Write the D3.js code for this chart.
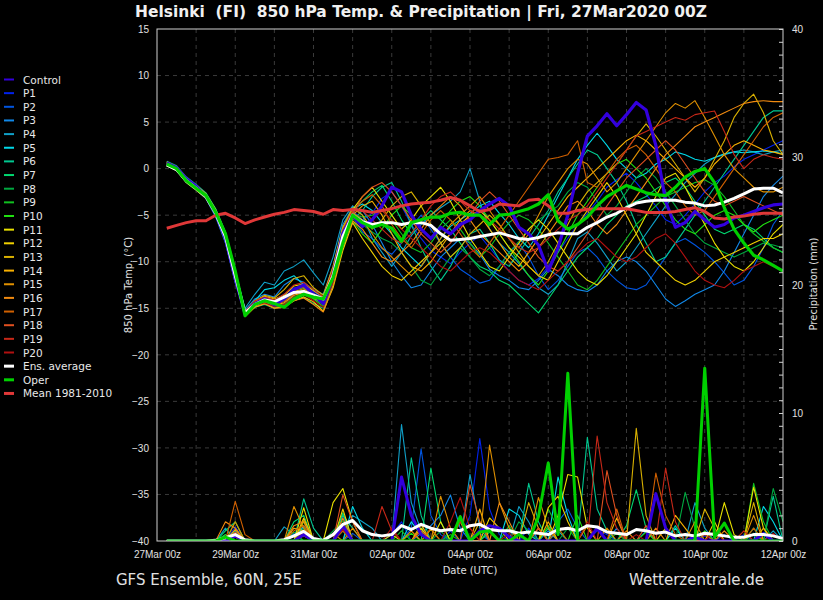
<!DOCTYPE html>
<html lang="en">
<head>
<meta charset="UTF-8">
<title>Helsinki 850 hPa Temp. &amp; Precipitation</title>
<script src="https://d3js.org/d3.v7.min.js"></script>
<style>
  body { margin: 0; background: #000; }
  svg { display: block; font-family: "DejaVu Sans", sans-serif; }
  .axis text { font-size: 10px; fill: #e0e0e0; }
  .axis path { display: none; }
  .axis line { stroke: #d0d0d0; }
  .grid line { stroke: #3a3a3a; stroke-dasharray: 4,4; }
  .legend text { font-size: 10.5px; fill: #e8e8e8; }
</style>
</head>
<body>
<script>
// 6-hourly steps, first value is 27Mar 06z, last is 12Apr 00z
const stepHours = 6;
const dateLabels = ["27Mar 00z","29Mar 00z","31Mar 00z","02Apr 00z","04Apr 00z","06Apr 00z","08Apr 00z","10Apr 00z","12Apr 00z"];
const tempTicks = [15,10,5,0,-5,-10,-15,-20,-25,-30,-35,-40];
const precipTicks = [0,10,20,30,40];

// 850 hPa temperature (°C)
const tControl = [0.6,0.1,-1.1,-1.9,-3.0,-4.8,-7.5,-11.8,-15.6,-14.5,-14.0,-14.6,-14.0,-13.0,-12.5,-13.5,-14.5,-11.5,-7.0,-5.0,
  -6.2,-5.5,-4.0,-2.0,-2.5,-5.0,-6.5,-7.5,-6.3,-7.0,-6.0,-5.5,-4.5,-3.8,-3.2,-4.0,-6.3,-7.0,-8.2,-11.0,
  -8.5,-5.0,-0.5,3.5,4.6,5.9,4.6,5.8,7.1,6.3,2.5,-3.5,-6.3,-5.8,-4.6,-5.5,-6.3,-6.0,-5.3,-5.0,-4.6,-4.2,-3.9,-3.8];
const tP1 = [0.4,-0.1,-1.4,-2.2,-3.1,-5.0,-7.6,-12.0,-15.4,-14.4,-13.8,-14.2,-13.5,-12.8,-12.6,-13.2,-13.9,-11.0,-6.5,-4.5,
  -5.5,-4.8,-3.2,-2.5,-4.0,-6.0,-7.5,-8.8,-9.5,-10.2,-9.0,-8.0,-7.2,-8.5,-9.8,-11.0,-12.0,-12.5,-11.8,-10.5,
  -9.0,-7.5,-6.0,-4.8,-3.5,-2.0,-1.2,-0.5,-1.5,-2.8,-4.0,-5.5,-6.0,-5.0,-3.8,-2.5,-1.5,-0.8,0.2,1.0,1.5,2.0,2.5,3.0];
const tP2 = [0.7,0.2,-1.0,-1.8,-2.7,-4.4,-7.0,-11.2,-15.8,-14.8,-14.4,-14.9,-14.6,-13.6,-13.2,-13.9,-14.6,-12.0,-7.8,-5.2,
  -6.8,-7.5,-8.6,-9.2,-8.0,-6.2,-5.0,-6.5,-8.0,-9.5,-10.8,-11.5,-12.3,-12.0,-10.5,-9.0,-8.0,-9.5,-11.5,-13.0,
  -12.0,-10.5,-9.0,-8.5,-9.5,-11.0,-12.0,-12.8,-13.0,-12.5,-11.0,-9.5,-8.0,-7.5,-8.2,-9.0,-10.0,-11.2,-12.5,-12.0,-10.5,-8.5,-6.0,-4.5];
const tP3 = [0.3,-0.2,-1.5,-2.3,-3.2,-5.2,-8.0,-12.3,-15.2,-14.0,-13.5,-13.8,-12.5,-11.8,-12.2,-13.0,-13.5,-10.5,-6.0,-4.2,
  -4.5,-6.0,-8.0,-10.0,-11.5,-12.8,-12.5,-11.0,-9.5,-8.5,-7.5,-8.0,-9.2,-10.8,-11.5,-12.0,-12.8,-13.0,-12.0,-10.8,
  -11.5,-12.5,-13.0,-13.2,-12.5,-11.0,-10.0,-9.5,-10.0,-11.0,-12.5,-14.0,-14.8,-14.2,-13.5,-13.0,-12.5,-11.0,-9.0,-7.0,-5.0,-3.0,-1.8,-0.8];
const tP4 = [0.6,0.1,-1.2,-2.0,-2.8,-4.5,-7.0,-11.0,-15.0,-13.5,-12.2,-12.5,-11.0,-10.5,-9.8,-11.2,-12.5,-9.5,-5.5,-4.0,
  -5.0,-7.5,-9.0,-10.5,-9.0,-7.2,-6.0,-5.0,-4.2,-3.5,-2.5,0.0,-3.5,-6.5,-8.0,-9.0,-10.2,-11.5,-12.8,-13.5,
  -12.5,-10.0,-7.5,-6.8,-8.0,-9.5,-11.0,-10.0,-8.5,-7.0,-5.5,-4.0,-2.8,-1.5,-0.5,0.5,1.2,1.5,1.8,2.0,1.8,1.5,1.8,2.0];
const tP5 = [0.5,0.0,-1.3,-2.1,-3.0,-4.9,-7.4,-11.6,-15.5,-14.2,-13.0,-12.8,-12.0,-11.5,-12.5,-13.6,-14.5,-11.2,-6.8,-4.3,
  -3.8,-4.5,-5.8,-7.0,-8.5,-9.5,-10.5,-9.0,-7.5,-6.2,-5.5,-4.8,-4.0,-3.5,-4.8,-6.0,-7.5,-8.5,-7.0,-5.0,
  -3.0,-1.0,1.0,2.5,3.8,2.5,1.0,0.0,-1.0,-0.5,0.5,1.0,1.8,1.5,1.0,0.8,1.2,1.6,1.8,1.7,1.8,1.9,1.8,1.6];
const tP6 = [0.8,0.3,-0.9,-1.7,-2.6,-4.3,-6.8,-10.8,-15.6,-14.9,-14.6,-15.0,-14.7,-14.2,-13.8,-14.5,-15.0,-12.5,-8.5,-5.5,
  -4.5,-3.0,-2.0,-1.5,-3.5,-6.0,-8.5,-10.5,-12.0,-10.5,-8.5,-7.0,-6.5,-8.0,-9.8,-10.5,-9.0,-7.5,-6.0,-4.5,
  -2.5,-1.0,0.5,2.0,1.5,0.0,-1.5,-3.5,-6.0,-8.0,-10.0,-9.5,-8.0,-6.5,-5.0,-3.5,-2.0,-0.5,1.0,2.5,4.0,5.5,6.2,6.2];
const tP7 = [0.4,-0.1,-1.3,-2.1,-3.0,-4.7,-7.3,-11.4,-15.4,-14.3,-13.9,-14.4,-13.9,-13.0,-12.8,-13.4,-14.0,-11.0,-6.8,-4.6,
  -3.5,-2.5,-1.8,-3.5,-5.5,-7.0,-5.5,-4.5,-5.5,-6.5,-8.0,-9.5,-10.5,-11.0,-12.0,-12.5,-13.5,-14.5,-15.5,-14.0,
  -12.5,-11.0,-9.5,-8.5,-7.5,-6.0,-5.0,-4.0,-3.5,-3.0,-2.2,-1.5,-1.0,-2.0,-3.5,-5.0,-6.5,-7.0,-6.5,-6.0,-6.5,-7.5,-8.5,-9.0];
const tP8 = [0.6,0.1,-1.2,-2.0,-2.9,-4.6,-7.2,-11.3,-15.7,-14.7,-14.3,-14.8,-14.5,-13.5,-13.0,-13.8,-14.6,-11.8,-7.5,-5.0,
  -6.0,-6.8,-7.5,-8.0,-9.0,-10.5,-12.0,-12.5,-11.0,-9.5,-8.5,-9.5,-10.8,-11.5,-10.5,-9.0,-7.8,-6.5,-5.5,-4.8,
  -4.0,-2.5,-1.5,-2.0,-3.5,-5.0,-4.0,-2.5,-1.0,0.0,-1.0,-2.5,-4.0,-5.5,-7.0,-8.0,-8.5,-9.0,-9.5,-9.0,-8.5,-8.0,-8.2,-8.5];
const tP9 = [0.5,0.0,-1.2,-2.0,-2.9,-4.8,-7.4,-11.6,-15.6,-14.5,-14.2,-14.6,-14.2,-13.4,-13.1,-13.7,-14.3,-11.3,-7.2,-4.9,
  -5.2,-5.0,-4.5,-5.5,-7.0,-8.5,-9.0,-8.0,-6.5,-5.5,-6.5,-8.0,-9.5,-8.5,-7.0,-5.8,-5.0,-5.5,-6.5,-8.0,
  -9.5,-11.0,-12.5,-13.0,-12.0,-10.5,-9.0,-7.5,-6.0,-5.0,-4.0,-3.0,-2.5,-2.0,-1.5,-1.2,-1.8,-3.0,-4.5,-6.0,-7.0,-7.8,-8.5,-9.0];
const tP10 = [0.6,0.1,-1.1,-1.9,-2.8,-4.5,-7.1,-11.2,-15.8,-14.7,-14.3,-14.7,-14.6,-13.8,-13.4,-14.0,-14.8,-12.2,-8.2,-5.6,
  -7.0,-8.0,-6.5,-5.0,-4.0,-5.0,-6.5,-7.5,-6.0,-4.5,-3.5,-3.0,-4.0,-5.5,-7.0,-8.5,-10.0,-11.5,-12.5,-11.0,
  -9.0,-7.0,-5.0,-3.5,-2.0,-0.5,0.5,1.0,0.0,-1.0,-2.5,-4.0,-5.5,-6.5,-7.0,-6.0,-5.0,-4.5,-5.0,-6.0,-6.8,-6.0,-5.5,-5.0];
const tP11 = [0.3,-0.2,-1.5,-2.3,-3.2,-5.0,-7.7,-12.1,-15.5,-14.2,-13.7,-14.0,-13.6,-12.6,-12.4,-13.1,-13.8,-10.8,-6.4,-4.4,
  -3.0,-2.0,-3.5,-5.0,-6.5,-5.5,-4.0,-3.0,-2.0,-3.5,-5.5,-7.5,-9.0,-10.5,-11.0,-9.5,-8.0,-6.5,-5.5,-6.5,
  -8.0,-9.5,-11.0,-12.0,-12.5,-11.5,-10.0,-8.5,-7.0,-5.0,-3.0,-1.0,-0.5,-2.0,-4.0,-6.0,-8.0,-9.5,-10.5,-11.0,-10.0,-8.5,-7.0,-6.0];
const tP12 = [0.7,0.2,-1.0,-1.8,-2.7,-4.4,-6.9,-11.0,-15.9,-14.9,-14.5,-15.0,-14.8,-14.2,-13.8,-14.3,-15.3,-12.8,-8.8,-5.8,
  -7.5,-9.0,-10.5,-11.5,-12.0,-11.0,-10.0,-9.0,-8.0,-7.0,-6.0,-5.0,-4.5,-5.5,-7.0,-8.5,-9.5,-10.5,-11.5,-12.0,
  -10.0,-8.0,-6.0,-4.5,-3.0,-1.5,-3.0,-5.0,-7.0,-9.0,-10.0,-11.0,-12.0,-12.5,-12.0,-11.0,-10.0,-9.5,-9.0,-8.5,-8.0,-7.5,-7.5,-7.0];
const tP13 = [0.4,-0.1,-1.4,-2.2,-3.1,-4.9,-7.5,-11.7,-15.3,-14.3,-13.6,-13.9,-13.0,-11.8,-11.5,-12.8,-13.6,-10.5,-6.3,-4.2,
  -5.0,-6.5,-5.5,-4.0,-3.0,-2.5,-4.0,-6.0,-8.0,-9.5,-8.5,-7.0,-6.0,-5.0,-6.0,-7.5,-9.0,-10.5,-11.5,-10.0,
  -8.0,-6.0,-4.0,-2.5,-1.5,-0.5,0.5,2.0,3.5,4.8,3.5,2.0,0.5,-1.0,-2.5,-1.0,1.0,3.0,5.5,7.0,8.0,6.0,3.0,1.5];
const tP14 = [0.6,0.1,-1.2,-2.0,-2.9,-4.6,-7.2,-11.3,-15.6,-14.6,-14.3,-14.7,-14.4,-13.6,-13.3,-13.9,-14.4,-11.6,-7.4,-5.0,
  -4.0,-3.5,-5.0,-7.0,-9.0,-10.5,-11.0,-10.0,-8.5,-7.0,-5.5,-4.5,-5.0,-6.5,-8.0,-9.5,-10.5,-9.0,-7.5,-6.0,
  -4.5,-3.0,-2.0,-1.0,0.0,1.0,2.0,3.0,3.6,3.0,2.0,1.0,0.0,-1.0,-2.0,-1.0,0.5,1.5,2.5,3.0,2.5,2.0,1.8,1.5];
const tP15 = [0.5,0.0,-1.3,-2.1,-3.0,-4.7,-7.3,-11.5,-15.5,-14.4,-14.0,-14.5,-14.1,-13.2,-12.9,-13.5,-14.2,-11.2,-7.0,-4.7,
  -5.5,-7.0,-8.5,-9.5,-10.5,-11.5,-10.5,-9.0,-7.5,-6.0,-5.0,-4.0,-3.0,-4.5,-6.0,-7.5,-8.5,-7.0,-5.0,-3.0,
  -1.5,0.0,1.0,0.5,-1.0,-2.5,-1.5,0.0,1.5,3.0,4.5,6.0,7.0,6.5,7.3,5.5,3.5,1.5,0.0,-1.0,-2.0,-2.5,-2.5,-2.0];
const tP16 = [0.7,0.2,-1.0,-1.9,-2.8,-4.5,-7.1,-11.2,-15.8,-14.8,-14.5,-15.0,-14.9,-14.2,-13.9,-14.6,-15.4,-12.6,-8.4,-5.6,
  -6.5,-8.0,-9.5,-10.0,-9.0,-8.0,-6.5,-5.0,-4.0,-3.0,-4.0,-5.5,-7.0,-8.0,-9.0,-10.0,-11.0,-10.0,-8.5,-7.0,
  -5.5,-4.0,-3.5,-4.5,-6.0,-7.0,-6.0,-4.5,-3.0,-1.5,0.0,1.5,2.5,3.5,4.5,5.0,5.5,6.0,6.5,7.0,7.2,7.3,7.2,7.2];
const tP17 = [0.5,0.0,-1.3,-2.1,-3.0,-4.8,-7.4,-11.6,-15.4,-14.3,-13.9,-14.3,-13.8,-13.0,-12.7,-13.4,-14.1,-11.1,-6.9,-4.6,
  -3.5,-2.8,-4.0,-6.0,-7.5,-8.5,-7.0,-5.5,-4.5,-5.5,-7.0,-8.5,-9.5,-8.0,-6.5,-5.0,-3.5,-2.0,-0.5,1.0,
  1.2,1.5,3.0,-1.5,-2.0,-0.5,1.0,2.0,2.5,1.5,0.0,-1.5,-2.5,-4.0,-5.0,-4.5,-3.0,-1.5,0.0,1.5,3.0,4.5,5.5,6.0];
const tP18 = [0.6,0.1,-1.2,-2.0,-2.9,-4.7,-7.2,-11.4,-15.6,-14.5,-14.1,-14.6,-14.3,-13.5,-13.1,-13.7,-14.4,-11.4,-7.2,-4.9,
  -3.0,-2.0,-1.5,-2.5,-4.0,-5.5,-7.0,-8.0,-9.0,-8.0,-6.5,-5.0,-3.5,-2.5,-3.5,-5.0,-6.5,-8.0,-9.5,-10.5,
  -11.0,-10.0,-8.5,-7.0,-5.5,-4.0,-2.5,-1.0,0.0,1.0,2.0,3.0,2.0,0.5,-1.0,-2.5,-3.5,-4.0,-3.5,-3.0,-3.5,-4.0,-4.5,-5.0];
const tP19 = [0.4,-0.1,-1.3,-2.2,-3.1,-4.9,-7.5,-11.8,-15.4,-14.2,-13.8,-14.1,-13.5,-12.5,-12.2,-13.0,-13.8,-10.8,-6.6,-4.5,
  -4.5,-5.5,-6.5,-7.5,-8.0,-7.0,-5.5,-4.0,-3.0,-2.5,-3.5,-4.5,-5.0,-5.5,-6.5,-7.5,-8.5,-9.0,-8.5,-7.5,
  -6.5,-5.5,-5.0,-4.0,-2.5,-1.0,0.5,2.0,3.5,4.0,4.5,5.0,5.5,5.2,5.8,6.0,6.2,4.0,1.5,0.0,1.0,1.5,1.2,1.0];
const tP20 = [0.6,0.1,-1.2,-2.0,-2.9,-4.6,-7.1,-11.2,-15.7,-14.7,-14.4,-14.8,-14.6,-13.8,-13.5,-14.2,-14.9,-12.2,-8.0,-5.3,
  -6.0,-5.5,-4.5,-5.5,-6.5,-7.5,-8.5,-9.5,-10.5,-11.0,-10.0,-9.0,-8.5,-9.0,-10.0,-11.0,-12.0,-12.5,-13.0,-12.0,
  -11.0,-10.0,-9.0,-8.0,-7.5,-8.5,-9.5,-10.0,-9.5,-8.5,-7.5,-7.0,-8.0,-9.5,-11.0,-12.0,-12.5,-12.8,-12.0,-11.0,-10.5,-10.0,-10.5,-11.0];
const tEnsAvg = [0.4,-0.1,-1.3,-2.1,-3.0,-4.8,-7.3,-11.5,-15.5,-14.6,-14.1,-14.3,-13.8,-13.3,-13.2,-13.6,-14.0,-11.5,-7.3,-5.0,
  -5.7,-6.0,-5.8,-5.8,-6.0,-5.8,-5.8,-6.1,-7.0,-7.7,-7.6,-7.5,-7.3,-7.1,-6.9,-7.2,-7.5,-7.6,-7.4,-7.1,
  -6.9,-7.0,-7.0,-6.3,-5.8,-5.2,-4.8,-4.2,-3.7,-3.5,-3.4,-3.4,-3.4,-3.6,-3.7,-4.0,-3.9,-3.6,-3.2,-2.7,-2.2,-2.1,-2.1,-2.6];
const tOper = [0.5,0.0,-1.3,-2.1,-2.9,-4.7,-7.0,-11.0,-15.8,-14.6,-14.2,-14.5,-14.9,-14.0,-13.5,-13.8,-14.0,-11.7,-8.0,-5.0,
  -5.8,-6.3,-6.0,-6.4,-7.8,-5.8,-5.5,-5.2,-5.2,-4.8,-4.7,-5.0,-5.0,-6.0,-5.0,-4.9,-4.6,-4.3,-3.8,-2.8,
  -5.6,-6.5,-6.0,-5.2,-4.0,-3.0,-2.4,-1.8,-2.2,-2.6,-2.8,-2.9,-2.0,-0.9,-0.3,0.0,-1.5,-4.2,-6.5,-8.0,-9.3,-9.8,-10.4,-11.0];
const tMean = [-6.4,-6.1,-5.8,-5.6,-5.6,-5.0,-4.8,-5.3,-5.9,-5.5,-5.2,-4.9,-4.7,-4.4,-4.5,-4.6,-4.9,-4.4,-4.5,-4.4,
  -4.5,-4.7,-4.5,-4.3,-4.0,-3.8,-3.7,-3.6,-3.4,-3.1,-3.4,-4.0,-4.6,-4.4,-3.8,-3.9,-4.0,-3.4,-3.3,-4.0,
  -4.8,-4.8,-4.5,-4.4,-4.3,-4.3,-4.3,-4.3,-4.5,-4.7,-4.7,-4.7,-4.6,-4.4,-4.2,-4.6,-5.3,-5.4,-5.2,-5.1,-4.9,-4.8,-4.8,-4.8];

// precipitation per 6 h (mm)
const pControl = [0,0,0,0,0,0,0,0.4,0,0,0,0,0,0,0.5,0, 0,0,1.2,0,0,0,0,0,5.0,2.0,0.5,0,0,0,0,0,
  0.8,1.2,1.0,0.3,0,0,0,0,0,0,0,0,1.0,0,0,0, 0,0,3.7,1.0,0,0,0.3,0,0,0,0,0,0,0.6,0,0];
const pP1 = [0,0,0,0,0,0,0,1.1,0,0,0,0,0,0.6,1.0,0, 0,0,2.0,0,0,0,0,0.5,1.5,0,0,0,0,0.8,0,2.0,
  8.0,2.5,0.5,0,0,1.0,0,0,0,0,0,0,0.8,0.5,0,0, 0,0,0,0,0,0,0,0.4,0,0,0,0.5,0,0,0,0];
const pP2 = [0,0,0,0,0,0,0,0.3,0,0,0,0,0,0,0.4,0, 0,0,0,0.6,0,0,0,0,0,1.0,7.2,2.0,0.5,0,0,0,
  0.6,0,0,0,0,0,0,0,1.5,2.5,1.0,0,0,0,0,0, 0,0.8,0,0,0,0,0,0,0,0.5,0,0,0,0,0,0];
const pP3 = [0,0,0,0,0,0,0.5,0,0,0,0,0,0,0.5,0,0, 0,0,0.8,0,0,0,0,0,0,0,0.6,1.2,2.0,3.6,1.0,0,
  0,0,0,0,0,0,0,0.8,0,0,0,0,0,0,1.0,0, 0,0,0,0,0,0,0.4,0,0,0,0,0,0.6,0,0,0];
const pP4 = [0,0,0,0,0,0,1.0,0,0,0,0,0,1.1,0.5,0.4,0, 0,0,0,2.0,1.5,1.0,0,0,9.1,3.0,0.8,0,0,0,0,5.2,
  1.0,0,0,0,2.7,1.5,0,0,0.8,0,0,0,0,0,0,0, 0,0,0,0,0,0,3.0,1.0,0,0,0,0,0,0,0.8,0];
const pP5 = [0,0,0,0,0,0,0,0.6,0,0,0,0,0,0,1.2,0, 0,0,0,2.7,1.0,0,0,0,0,1.5,0.5,0,0,0,0,0,
  0,0,0,2.5,2.0,0.5,0,0,5.0,2.0,0,0,0,0,0,0, 0,0,0,0,1.0,0,0,0,0,0,0,0,0,2.7,1.5,0];
const pP6 = [0,0,0,0,0,0,0,0.8,0,0,0,0,0,0,3.3,1.0, 0,0,2.0,1.0,0,0,0,0,0,6.5,2.0,0,0,0,0,0,
  0,0,0,0,0,4.5,1.5,0,0,0,0,8.1,2.5,0.8,0,0, 0,0,0,0,1.2,0,0,0,0,0,0,0,0,0,3.5,0];
const pP7 = [0,0,0,0,0,0,0.8,1.5,0,0,0,0,0,1.5,2.0,0, 0,0,2.2,0,0,0,0,0,0,0,0,5.7,1.5,0,0,0,
  0,0.7,0,0,0,0,0,1.0,0,0,0,0,0,0,0,1.2, 4.0,1.0,0,0,0,0,0,0,0,0,0,0,1.0,0,0,0];
const pP8 = [0,0,0,0,0,0,0,1.5,0,0,0,0,0,0,1.0,0, 0,0.8,1.6,0,0,0,0,0,0,0,0,0,0.8,0,0,0,
  0,0,0,0,1.5,0.8,0,0,0,1.0,0,0,0,0,0,0, 0,0,0,0,0,3.8,1.0,0,0,0,0,0,0,0,4.1,1.5];
const pP9 = [0,0,0,0,0,0,0,0.4,0,0,0,0,0,0.7,0,0, 0,0,1.0,0,0,0,0,0,0.8,0,0,0,0,0.5,0,0,
  0,0,0,1.2,0,0,0,2.5,1.0,0,0,0,0,0,0.6,0, 0,0,0,0,0,0,0,0,0,0,0,0,4.5,1.5,0,0];
const pP10 = [0,0,0,0,0,0,0.5,0,0,0,0,0,0,0,1.5,0, 0,0,0.8,0,0,0,0,0,0,0.6,0,0,0,0,0,0,
  0,0.9,0,0,0,0,0,1.2,0,0,2.0,0,0,0,0,0, 0,0.7,0,0,0,0,0,0.8,0,0,0,0,0.6,0,0,0];
const pP11 = [0,0,0,0,0,0,0,0.3,0,0,0,0,0,0,2.6,0, 0,3.0,4.1,1.5,0,0,0,0.5,0,0,0,0,1.5,0,0,0,
  0,0,0,0,0,0,1.0,0,2.0,5.2,5.0,1.0,0,0,0,0, 0,0,0,0,0,0,0,0,0,3.0,0.5,0,4.2,1.0,0,0];
const pP12 = [0,0,0,0,0,0,0,0.4,0,0,0,0,0,0,1.8,0, 0,0,2.5,0,0,0,0,0,0,0,1.0,0,0,0,0,0,
  0,1.8,1.0,0,0,0,0,2.6,3.5,1.5,0,0,0,0,0,0, 0,0,0,1.0,0,0,0,0,1.5,0,0,0,0,0,0,0];
const pP13 = [0,0,0,0,0,0,0,0.5,0,0,0,0,0,0,1.6,0, 0,0,1.4,0,0,0,0,0,0,0,0,0.9,0,0,0,0,
  1.5,0,0,0,0,3.0,1.0,0,0,0,0,0,0,0,0,0, 8.8,2.0,0,0,0,0,0,2.5,1.0,0,0,0,3.0,0,0,0];
const pP14 = [0,0,0,0,0,0,0,0.9,0,0,0,0,0,1.0,0.8,0, 0,0,1.2,0,0,0,0,0,0,0,1.3,0,0,0,0,0,
  2.5,0,0,0,0,0,0,1.5,0,0,0,0,0,0,1.8,0, 0,0,0,0,2.0,1.0,0,0,0,0,0,0,0,1.0,0,0];
const pP15 = [0,0,0,0,0,0,0,1.5,0,0,0,0,0,2.7,1.0,0, 0,0.6,0,1.0,0,0,0,0,0,0,0,0,3.5,1.0,0,0,
  0,7.5,3.0,1.0,0,0,3.4,1.0,0,0,0,0,0,1.0,0,0, 0,0,0,0,0,0,1.5,0,0,0,0,0,2.0,0,0,0];
const pP16 = [0,0,0,0,0,0,1.5,1.0,0,0,0,0,0,1.2,1.5,0, 0,0,1.8,0,0,0,0,0,0,0.8,0,0,0,0,1.5,0,
  0,0,3.0,1.5,0,0,0,0,0,0,0,1.2,0,0,0,0.8, 0,0,1.0,0,0,0,0,0,0,0.8,0,0,0,0,0,0];
const pP17 = [0,0,0,0,0,0,0,3.1,0.5,0,0,0,0,0.8,1.2,0, 0,0,0.8,0,0,0,0,0,0,0,0,1.0,0,0,2.0,0,
  0,0,0,0,0,0,0,0,1.0,0,0,0,0,0,2.5,0, 0,0,5.3,2.0,0.5,0,0,0,0,0,0,0,1.0,0,0,0];
const pP18 = [0,0,0,0,0,0,0,0.7,0,0,0,0,0,0,0.8,0, 0,0,3.6,1.5,0,0,0,0,0,0,0.8,0,0,0,0,4.4,
  1.5,0,0,0,0,0,1.0,0,0,0,0,0,0,5.5,2.0,0, 0,1.2,0,0,0,0,0,0.5,0,0,0,0,0,0,0,0];
const pP19 = [0,0,0,0,0,0,0,0.6,0,0,0,0,0,0,0.4,0, 0,0,1.0,0,0,0,2.7,0.8,0,0,0,0,0,0,1.5,1.0,
  0,0,0,0,0,0,0,0,0,0,0,0,8.2,3.0,1.0,0, 0,0,0,5.7,1.5,0,0,0,0,0,0,0.8,0,0,0,0];
const pP20 = [0,0,0,0,0,0,0,0.3,0,0,0,0,0,0,0.7,0, 0,0,0.9,0,0,0,0,1.0,0,0,0,0,0,1.5,3.4,1.0,
  0,0,0,0.6,0,0,0,0,0,0,0,1.5,0,0,0,0, 0.5,0,0,0,0,0,0,0,0.8,0,0,0,0,0,0.6,0];
const pEnsAvg = [0,0,0,0,0,0.05,0.25,0.5,0.1,0,0,0,0.1,0.4,0.75,0.2, 0.05,0.5,1.3,1.6,0.8,0.5,0.4,0.5,1.2,0.9,1.3,1.0,0.8,0.9,0.8,1.2,
  1.3,0.9,0.8,0.8,0.6,0.7,0.6,0.5,0.9,1.0,0.8,1.2,1.1,0.7,0.6,0.5, 0.9,0.8,0.6,0.7,0.4,0.5,0.4,0.6,0.5,0.4,0.3,0.3,0.5,0.5,0.4,0.2];
const pOper = [0,0,0,0,0,0,0.3,0,0,0,0,0,0,0,0,0, 0,0,0,0,0,0,0,0,0,0,0,0,0,0,1.9,0,
  0.7,0.8,0,0,0.5,0,1.9,6.1,0.5,13.1,0,0,0,0,0,0, 0,0,0,0,0,0,0,13.5,0.3,1.4,0,0,0,0,0,0];

const memberNames = ["Control","P1","P2","P3","P4","P5","P6","P7","P8","P9","P10",
  "P11","P12","P13","P14","P15","P16","P17","P18","P19","P20"];
const memberTemps = [tControl,tP1,tP2,tP3,tP4,tP5,tP6,tP7,tP8,tP9,tP10,tP11,tP12,tP13,tP14,tP15,tP16,tP17,tP18,tP19,tP20];
const memberPrecip = [pControl,pP1,pP2,pP3,pP4,pP5,pP6,pP7,pP8,pP9,pP10,pP11,pP12,pP13,pP14,pP15,pP16,pP17,pP18,pP19,pP20];
const memberColors = ["#3300dd","#0022ee","#0055e0","#1188e8","#10a0c8","#00d8e8","#00c890","#00d870","#00a840","#10c020","#20e010",
  "#e8e000","#f0d000","#d8b000","#f8b000","#e09000","#f08a10","#d06000","#e05020","#c82818","#b01010"];

const margin = { top: 29, right: 40, bottom: 59, left: 157 },
  width = 823 - margin.left - margin.right,
  height = 600 - margin.top - margin.bottom;

const svg = d3.select("body").append("svg")
  .attr("width", 823).attr("height", 600)
  .style("background", "#000");

const g = svg.append("g").attr("transform", `translate(${margin.left},${margin.top})`);

const x = d3.scaleLinear().domain([0, 16 * 24]).range([0, width]);
const yT = d3.scaleLinear().domain([-40, 15]).range([height, 0]);
const yP = d3.scaleLinear().domain([0, 40]).range([height, 0]);

// grid
g.append("g").attr("class", "grid")
  .selectAll("line").data(d3.range(24, 16 * 24, 24)).join("line")
  .attr("x1", d => x(d)).attr("x2", d => x(d)).attr("y1", 0).attr("y2", height);
g.append("g").attr("class", "grid")
  .selectAll("line").data(tempTicks.filter(d => d > -40 && d < 15)).join("line")
  .attr("x1", 0).attr("x2", width).attr("y1", d => yT(d)).attr("y2", d => yT(d));

g.append("clipPath").attr("id", "plot-clip")
  .append("rect").attr("width", width).attr("height", height);

const plot = g.append("g").attr("clip-path", "url(#plot-clip)");

const tLine = d3.line().x((d, i) => x((i + 1) * stepHours)).y(d => yT(d));
const pLine = d3.line().x((d, i) => x((i + 1) * stepHours)).y(d => yP(d));

function drawSeries(values, line, color, w) {
  plot.append("path").datum(values)
    .attr("fill", "none").attr("stroke", color).attr("stroke-width", w)
    .attr("stroke-linejoin", "round").attr("d", line);
}

// thin members first, then thick lines on top
for (let k = 1; k < memberNames.length; k++) {
  drawSeries(memberPrecip[k], pLine, memberColors[k], 1.1);
  drawSeries(memberTemps[k], tLine, memberColors[k], 1.1);
}
drawSeries(pControl, pLine, memberColors[0], 3);
drawSeries(tControl, tLine, memberColors[0], 3.2);
drawSeries(pEnsAvg, pLine, "#ffffff", 3);
drawSeries(tEnsAvg, tLine, "#ffffff", 3);
drawSeries(tMean, tLine, "#e03838", 3);
drawSeries(pOper, pLine, "#00d000", 3);
drawSeries(tOper, tLine, "#00d000", 3.2);

// frame
g.append("rect").attr("width", width).attr("height", height)
  .attr("fill", "none").attr("stroke", "#d0d0d0").attr("stroke-width", 1);

// axes
g.append("g").attr("class", "axis")
  .call(d3.axisLeft(yT).tickValues(tempTicks).tickSize(0).tickPadding(8));

g.append("g").attr("class", "axis")
  .attr("transform", `translate(0,${height})`)
  .call(d3.axisBottom(x).tickValues(d3.range(0, 16 * 24 + 1, 48))
    .tickFormat((d, i) => dateLabels[i]).tickSize(0).tickPadding(10));

g.append("g").attr("class", "axis")
  .attr("transform", `translate(${width},0)`)
  .call(d3.axisRight(yP).tickValues(d3.range(0, 41, 1)).tickSize(-4).tickPadding(9)
    .tickFormat(d => precipTicks.includes(d) ? d : ""));

// axis titles
svg.append("text").attr("transform", "translate(128,285) rotate(-90)")
  .attr("text-anchor", "middle").attr("dominant-baseline", "central")
  .style("font-size", "10px").style("fill", "#e0e0e0").text("850 hPa Temp. (°C)");
svg.append("text").attr("transform", "translate(813,284) rotate(-90)")
  .attr("text-anchor", "middle").attr("dominant-baseline", "central")
  .style("font-size", "10px").style("fill", "#e0e0e0").text("Precipitation (mm)");
svg.append("text").attr("x", 470).attr("y", 574)
  .attr("text-anchor", "middle")
  .style("font-size", "10px").style("fill", "#e0e0e0").text("Date (UTC)");

// title
svg.append("text").attr("x", 135).attr("y", 17)
  .attr("textLength", 572).attr("lengthAdjust", "spacingAndGlyphs")
  .style("font-size", "15px").style("font-weight", "bold").style("fill", "#f0f0f0")
  .text("Helsinki  (FI)  850 hPa Temp. & Precipitation | Fri, 27Mar2020 00Z")
  .attr("xml:space", "preserve");

// footer
svg.append("text").attr("x", 116).attr("y", 585)
  .style("font-size", "15px").style("fill", "#e0e0e0").text("GFS Ensemble, 60N, 25E");
svg.append("text").attr("x", 629).attr("y", 585)
  .style("font-size", "15px").style("fill", "#e0e0e0").text("Wetterzentrale.de");

// legend
const legendItems = memberNames.map((n, k) => ({ name: n, color: memberColors[k], w: 2 }))
  .concat([
    { name: "Ens. average", color: "#ffffff", w: 3 },
    { name: "Oper", color: "#00d000", w: 3 },
    { name: "Mean 1981-2010", color: "#e03838", w: 3 }
  ]);

const legend = svg.append("g").attr("class", "legend");
const rows = legend.selectAll("g").data(legendItems).join("g")
  .attr("transform", (d, i) => `translate(0,${79.5 + i * 13.65})`);
rows.append("line").attr("x1", 4).attr("x2", 14)
  .attr("stroke", d => d.color).attr("stroke-width", d => d.w);
rows.append("text").attr("x", 23).attr("dominant-baseline", "central")
  .text(d => d.name);
</script>
</body>
</html>
